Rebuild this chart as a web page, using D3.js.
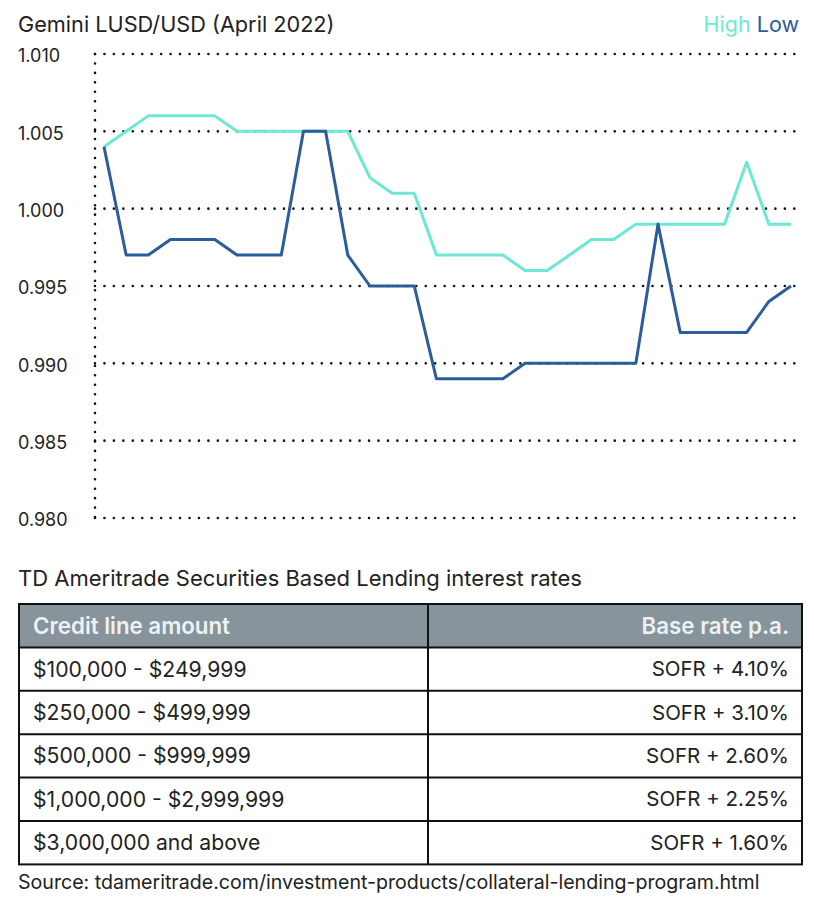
<!DOCTYPE html>
<html>
<head>
<meta charset="utf-8">
<script src="https://cdn.jsdelivr.net/npm/d3@7"></script>
<style>
  body { margin: 0; background: #fff; }
  svg text { font-family: Inter, "Noto Sans", sans-serif; }
</style>
</head>
<body>
<div id="chart"></div>
<script>
// daily points (Mar 31 - May 1, 2022)
const days = d3.range(32);
const high = [1.004, 1.005, 1.006, 1.006, 1.006, 1.006, 1.005, 1.005, 1.005, 1.005, 1.005, 1.005,
  1.002, 1.001, 1.001, 0.997, 0.997, 0.997, 0.997, 0.996, 0.996, 0.997, 0.998, 0.998,
  0.999, 0.999, 0.999, 0.999, 0.999, 1.003, 0.999, 0.999];
const low = [1.004, 0.997, 0.997, 0.998, 0.998, 0.998, 0.997, 0.997, 0.997, 1.005, 1.005, 0.997,
  0.995, 0.995, 0.995, 0.989, 0.989, 0.989, 0.989, 0.990, 0.990, 0.990, 0.990, 0.990,
  0.990, 0.999, 0.992, 0.992, 0.992, 0.992, 0.994, 0.995];
const yTicks = [0.980, 0.985, 0.990, 0.995, 1.000, 1.005, 1.010];

// table data
const tableHeader = ["Credit line amount", "Base rate p.a."];
const creditLines = ["$100,000 - $249,999", "$250,000 - $499,999", "$500,000 - $999,999",
  "$1,000,000 - $2,999,999", "$3,000,000 and above"];
const baseRates = ["SOFR + 4.10%", "SOFR + 3.10%", "SOFR + 2.60%", "SOFR + 2.25%", "SOFR + 1.60%"];

const w = 814, h = 900;
const highColor = "#6de8d3", lowColor = "#2b5c9c", textColor = "#222";

const svg = d3.select("#chart")
  .append("svg")
  .attr("width", w)
  .attr("height", h);

// titles
svg.append("text")
  .attr("x", 18).attr("y", 32)
  .attr("font-size", 21.7)
  .attr("fill", textColor)
  .text("Gemini LUSD/USD (April 2022)");

const legend = svg.append("text")
  .attr("x", 799).attr("y", 32)
  .attr("text-anchor", "end")
  .attr("font-size", 21.5);
legend.append("tspan").attr("fill", highColor).text("High ");
legend.append("tspan").attr("fill", lowColor).text("Low");

// scales
const xScale = d3.scaleLinear().domain([0, 31]).range([104, 791]);
const yScale = d3.scaleLinear().domain([0.98, 1.01]).range([518, 54]);

// dotted grid
const grid = svg.append("g")
  .attr("stroke", "#111")
  .attr("stroke-width", 2.6)
  .attr("stroke-linecap", "round")
  .attr("stroke-dasharray", "0 9.45");

grid.selectAll("line.h")
  .data(yTicks)
  .enter()
  .append("line")
  .attr("class", "h")
  .attr("x1", 95).attr("x2", 801)
  .attr("y1", d => yScale(d)).attr("y2", d => yScale(d));

grid.append("line")
  .attr("x1", 95).attr("x2", 95)
  .attr("y1", yScale(1.01)).attr("y2", yScale(0.98));

// y axis labels
const yAxis = d3.axisLeft(yScale)
  .tickValues(yTicks)
  .tickFormat(d3.format(".3f"))
  .tickSize(0);
svg.append("g")
  .attr("transform", "translate(18,2)")
  .call(yAxis)
  .call(g => g.select(".domain").remove())
  .call(g => g.selectAll("text")
    .attr("text-anchor", "start")
    .attr("x", 0)
    .attr("font-size", 18)
    .attr("font-family", "Inter, 'Noto Sans', sans-serif")
    .attr("fill", textColor));

// lines
const line = d3.line()
  .x((d, i) => xScale(days[i]))
  .y(d => yScale(d));

svg.append("path")
  .datum(high)
  .attr("d", line)
  .attr("fill", "none")
  .attr("stroke", highColor)
  .attr("stroke-width", 3)
  .attr("stroke-linejoin", "round");

svg.append("path")
  .datum(low)
  .attr("d", line)
  .attr("fill", "none")
  .attr("stroke", lowColor)
  .attr("stroke-width", 3)
  .attr("stroke-linejoin", "round");

// table
svg.append("text")
  .attr("x", 18).attr("y", 586)
  .attr("font-size", 22)
  .attr("fill", textColor)
  .text("TD Ameritrade Securities Based Lending interest rates");

const tLeft = 19, tRight = 802, tTop = 604, rowH = 43.4, colX = 428;
const nRows = creditLines.length + 1;
const rowY = d3.scaleLinear().domain([0, nRows]).range([tTop, tTop + rowH * nRows]);

const table = svg.append("g");

table.append("rect")
  .attr("x", tLeft).attr("y", rowY(0))
  .attr("width", tRight - tLeft).attr("height", rowH)
  .attr("fill", "#87949c");

table.selectAll("line.row")
  .data(d3.range(1, nRows))
  .enter()
  .append("line")
  .attr("class", "row")
  .attr("x1", tLeft).attr("x2", tRight)
  .attr("y1", d => rowY(d)).attr("y2", d => rowY(d))
  .attr("stroke", "#111").attr("stroke-width", 2);

table.append("line")
  .attr("x1", colX).attr("x2", colX)
  .attr("y1", rowY(0)).attr("y2", rowY(nRows))
  .attr("stroke", "#111").attr("stroke-width", 2);

table.append("rect")
  .attr("x", tLeft).attr("y", rowY(0))
  .attr("width", tRight - tLeft).attr("height", rowY(nRows) - rowY(0))
  .attr("fill", "none")
  .attr("stroke", "#111").attr("stroke-width", 2);

// header text
table.append("text")
  .attr("x", 33).attr("y", rowY(0.5)).attr("dy", "0.35em")
  .attr("font-size", 22.3).attr("font-weight", 600)
  .attr("fill", "#eef1f2")
  .text(tableHeader[0]);
table.append("text")
  .attr("x", 789).attr("y", rowY(0.5)).attr("dy", "0.35em")
  .attr("text-anchor", "end")
  .attr("font-size", 22.3).attr("font-weight", 600)
  .attr("fill", "#eef1f2")
  .text(tableHeader[1]);

// body text
table.selectAll("text.credit")
  .data(creditLines)
  .enter()
  .append("text")
  .attr("class", "credit")
  .attr("x", 33).attr("y", (d, i) => rowY(i + 1.5)).attr("dy", "0.35em")
  .attr("font-size", 21.2)
  .attr("fill", textColor)
  .text(d => d);

table.selectAll("text.rate")
  .data(baseRates)
  .enter()
  .append("text")
  .attr("class", "rate")
  .attr("x", 789).attr("y", (d, i) => rowY(i + 1.5)).attr("dy", "0.35em")
  .attr("text-anchor", "end")
  .attr("font-size", 20.5)
  .attr("fill", textColor)
  .text(d => d);

svg.append("text")
  .attr("x", 18).attr("y", 889)
  .attr("font-size", 19.6)
  .attr("fill", textColor)
  .text("Source: tdameritrade.com/investment-products/collateral-lending-program.html");
</script>
</body>
</html>
